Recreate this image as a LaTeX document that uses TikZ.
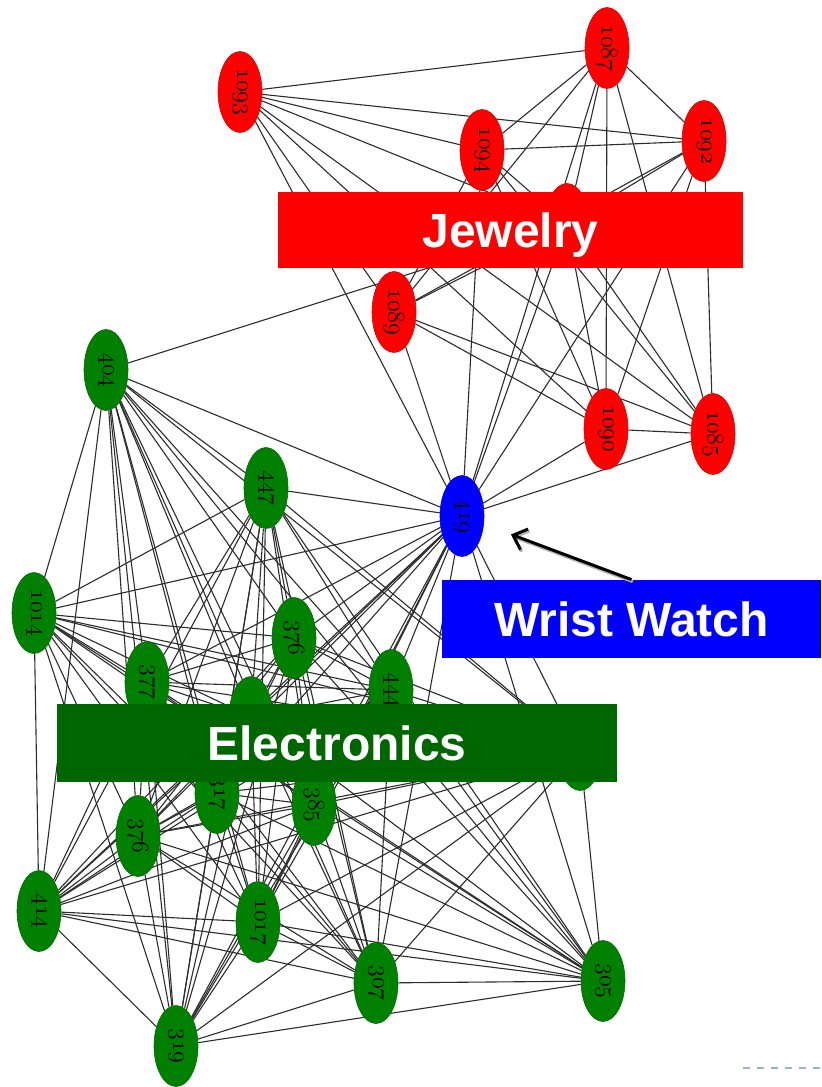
\documentclass[tikz,border=0pt]{standalone}
\usepackage{fontspec}
\usepackage{graphicx}
\newfontfamily\labfont{Liberation Sans}
\usetikzlibrary{shapes.geometric,arrows.meta}
\pgfdeclarelayer{bg}
\pgfdeclarelayer{edges}
\pgfsetlayers{bg,edges,main}
\definecolor{jred}{RGB}{255,0,0}
\definecolor{egreen}{RGB}{0,102,0}
\definecolor{wblue}{RGB}{0,0,255}
\definecolor{ngreen}{RGB}{0,128,0}
\definecolor{edgecol}{RGB}{45,45,45}
\definecolor{dashcol}{RGB}{157,179,204}
\newcommand{\vlab}[1]{\rotatebox{-90}{\fontseries{b}\selectfont\legacyoldstylenums{#1}}}
\tikzset{
  vert/.style={ellipse, minimum width=22pt, minimum height=40.5pt, inner sep=0pt, line width=0.3pt,
    font=\fontsize{11.5}{11.5}\selectfont},
  rv/.style={vert, fill=jred, draw=jred!85!black},
  gv/.style={vert, fill=ngreen, draw=ngreen!85!black},
  bv/.style={vert, fill=wblue, draw=wblue!85!black},
  link/.style={draw=edgecol, line width=0.55pt},
  catbox/.style={rectangle, inner sep=0pt, text=white, text height=17.2pt, text depth=0pt,
    font=\labfont\bfseries\fontsize{24}{24}\selectfont},
  warrow/.style={line width=1.5pt, -{Straight Barb[length=6pt,width=11pt]}, shorten >=14.5pt,
    preaction={draw=black!30, line width=1.5pt, transform canvas={shift={(0.6pt,-1pt)}}}},
}
\begin{document}
\begin{tikzpicture}[x=0.5pt,y=-0.5pt]
\useasboundingbox (0,0) rectangle (821,1087);
\begin{pgfonlayer}{bg}
\fill[white] (0,0) rectangle (821,1087);
\end{pgfonlayer}
% red (jewelry) vertices
\node[rv] (n1093) at (240,92) {\vlab{1093}};
\node[rv] (n1087) at (607,48) {\vlab{1087}};
\node[rv] (n1094) at (482,150) {\vlab{1094}};
\node[rv] (n1092) at (704,141) {\vlab{1092}};
\node[rv] (n1088) at (567,224) {};
\node[rv] (n1089) at (394,312) {\vlab{1089}};
\node[rv] (n1090) at (606,429) {\vlab{1090}};
\node[rv] (n1085) at (713,434) {\vlab{1085}};
% blue
\node[bv] (n419) at (462,516) {\vlab{419}};
% green (electronics)
\node[gv] (n404) at (106,370) {\vlab{404}};
\node[gv] (n447) at (266,488) {\vlab{447}};
\node[gv] (n1014) at (34,613) {\vlab{1014}};
\node[gv] (n376a) at (294,638) {\vlab{376}};
\node[gv] (n377) at (147,682) {\vlab{377}};
\node[gv] (n444) at (391,690) {\vlab{444}};
\node[gv] (nh1) at (251,717) {};
\node[gv] (nh2) at (580,750) {};
\node[gv] (n317) at (217,793) {\vlab{317}};
\node[gv] (n385) at (314,805) {\vlab{385}};
\node[gv] (n376b) at (138,836) {\vlab{376}};
\node[gv] (n414) at (39,911) {\vlab{414}};
\node[gv] (n1017) at (258,922) {\vlab{1017}};
\node[gv] (n307) at (376,983) {\vlab{307}};
\node[gv] (n319) at (176,1046) {\vlab{319}};
\node[gv] (n305) at (603,981) {\vlab{305}};
% edges
\begin{pgfonlayer}{edges}
\foreach \a [count=\i] in {n1093,n1087,n1094,n1092,n1088,n1089,n1090,n1085,n419}{
  \foreach \b [count=\j] in {n1093,n1087,n1094,n1092,n1088,n1089,n1090,n1085,n419}{
    \ifnum\j>\i \draw[link] (\a) -- (\b); \fi
  }
}
\foreach \a [count=\i] in {n419,n404,n447,n1014,n376a,n377,n444,nh1,nh2,n317,n385,n376b,n414,n1017,n307,n319,n305}{
  \foreach \b [count=\j] in {n419,n404,n447,n1014,n376a,n377,n444,nh1,nh2,n317,n385,n376b,n414,n1017,n307,n319,n305}{
    \ifnum\j>\i \draw[link] (\a) -- (\b); \fi
  }
}
\draw[link] (n404) -- (n1088);
\end{pgfonlayer}
% category boxes
\node[catbox, fill=jred, minimum width=232.5pt, minimum height=38pt] (jew) at (510.5,230) {Jewelry};
\node[catbox, fill=wblue, minimum width=189.5pt, minimum height=39pt] (ww) at (631.5,619) {Wrist Watch};
\node[catbox, fill=egreen, minimum width=280pt, minimum height=39pt] (ele) at (337,743) {Electronics};
\draw[warrow] (ww.north) -- (n419);
% slide decoration
\draw[dashcol, line width=1pt, dash pattern=on 3.5pt off 3.5pt] (743,1068) -- (821,1068);
\end{tikzpicture}
\end{document}
